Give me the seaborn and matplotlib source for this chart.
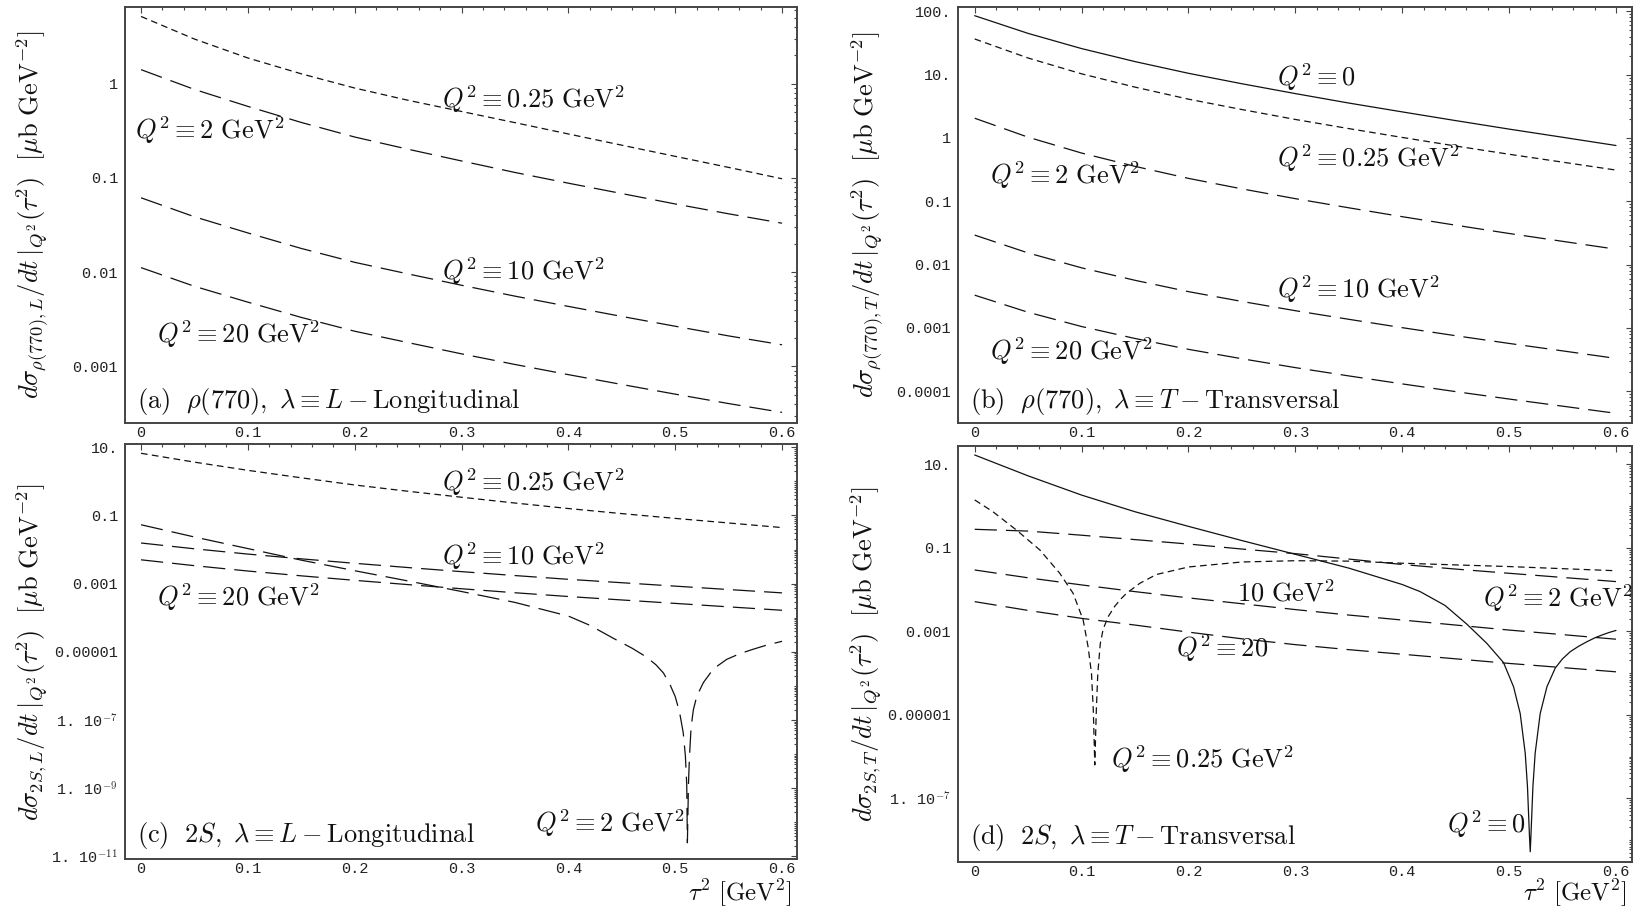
import numpy as np
import matplotlib
matplotlib.use("Agg")
import matplotlib.pyplot as plt
import matplotlib.ticker as mticker
import seaborn as sns

sns.set_theme(style="white")
plt.rcParams["font.family"] = ["Liberation Mono", "DejaVu Sans"]
plt.rcParams["mathtext.fontset"] = "cm"
plt.rcParams["lines.scale_dashes"] = False


# --------------------------------------------------
# Data
# --------------------------------------------------

TAU2 = [0.0, 0.05, 0.1, 0.15, 0.2, 0.25, 0.3, 0.35, 0.4, 0.45, 0.5, 0.55, 0.6]

# (a) rho(770), longitudinal
A_Q025 = [5.16, 2.97, 1.87, 1.27, 0.897, 0.665, 0.506, 0.385, 0.292, 0.222, 0.169, 0.129, 0.0977]
A_Q2 = [1.406, 0.867, 0.573, 0.387, 0.271, 0.201, 0.151, 0.114, 0.0877, 0.0681, 0.0528, 0.0415, 0.0330]
A_Q10 = [0.0614, 0.0386, 0.0260, 0.0178, 0.01268, 0.00955, 0.00724, 0.00555, 0.00432, 0.00338, 0.00266, 0.00210, 0.00169]
A_Q20 = [0.01114, 0.00706, 0.00479, 0.00330, 0.002355, 0.001782, 0.001355, 0.001045, 0.000815, 0.000641, 0.000506, 0.000402, 0.000324]

# (b) rho(770), transversal
B_Q0 = [85.3, 44.8, 25.8, 16.07, 10.50, 7.18, 5.02, 3.56, 2.58, 1.88, 1.38, 1.026, 0.760]
B_Q025 = [36.6, 18.3, 10.3, 6.35, 4.10, 2.81, 1.96, 1.406, 1.019, 0.746, 0.553, 0.415, 0.311]
B_Q2 = [2.05, 1.028, 0.578, 0.356, 0.230, 0.157, 0.110, 0.0789, 0.0571, 0.0419, 0.0310, 0.0233, 0.0175]
B_Q10 = [0.02924, 0.01528, 0.00889, 0.00565, 0.00374, 0.00262, 0.00187, 0.001368, 0.001009, 0.000753, 0.000569, 0.000434, 0.000330]
B_Q20 = [0.00329, 0.001766, 0.001052, 0.000681, 0.000459, 0.000326, 0.000236, 0.0001746, 0.0001306, 9.86e-5, 7.53e-5, 5.81e-5, 4.48e-5]

# (c) 2S, longitudinal
C_Q025 = [6.68, 3.67, 2.11, 1.274, 0.785, 0.513, 0.343, 0.232, 0.160, 0.1135, 0.0822, 0.0603, 0.0442]
C_Q10 = [0.01560, 0.01054, 0.00738, 0.00535, 0.00396, 0.00297, 0.002254, 0.001730, 0.001343, 0.001067, 0.000847, 0.000673, 0.000537]
C_Q20 = [0.005012, 0.003373, 0.002350, 0.001698, 0.001253, 0.000938, 0.000710, 0.000542, 0.000420, 0.000333, 0.000264, 0.000209, 0.000166]
C_Q2_TAU2 = [0.0, 0.05, 0.1, 0.15, 0.2, 0.25, 0.3, 0.35, 0.4, 0.42, 0.442, 0.46, 0.473, 0.482,
             0.489, 0.495, 0.5, 0.504, 0.5075, 0.5095, 0.5108, 0.5114, 0.5124, 0.5133, 0.5149,
             0.517, 0.5202, 0.5264, 0.5357, 0.5482, 0.5607, 0.5732, 0.5857, 0.6]
C_Q2 = [5.35e-2, 2.34e-2, 1.07e-2, 4.90e-3, 2.40e-3, 1.20e-3, 5.89e-4, 2.82e-4, 1.12e-4, 6.03e-5,
        2.51e-5, 1.26e-5, 7.08e-6, 4.17e-6, 2.40e-6, 1.12e-6, 4.90e-7, 1.74e-7, 4.27e-8, 9.12e-9,
        1.26e-9, 2.51e-11, 1.26e-9, 7.94e-9, 6.31e-8, 2.00e-7, 5.01e-7, 1.26e-6, 3.16e-6, 6.03e-6,
        8.91e-6, 1.20e-5, 1.58e-5, 2.04e-5]

# (d) 2S, transversal
D_Q0_TAU2 = [0.0, 0.05, 0.1, 0.15, 0.2, 0.25, 0.3, 0.35, 0.4, 0.4168, 0.44, 0.4605, 0.4792, 0.4948,
             0.5042, 0.5104, 0.5151, 0.5172, 0.5191, 0.5198, 0.5204, 0.5223, 0.5244, 0.5291,
             0.5354, 0.5432, 0.55, 0.5572, 0.565, 0.5728, 0.58, 0.5868, 0.5934, 0.6]
D_Q0 = [16.7, 5.28, 1.83, 0.729, 0.326, 0.149, 0.0697, 0.0326, 0.0132, 8.91e-3, 4.17e-3, 1.48e-3,
        5.13e-4, 1.78e-4, 4.68e-5, 1.07e-5, 1.20e-6, 1.91e-7, 1.20e-8, 5.25e-9, 1.20e-8, 1.91e-7,
        1.20e-6, 1.07e-5, 4.68e-5, 1.32e-4, 2.19e-4, 3.24e-4, 4.37e-4, 5.62e-4, 6.92e-4, 8.13e-4,
        9.33e-4, 1.047e-3]
D_Q025_TAU2 = [0.0, 0.017, 0.039, 0.061, 0.0796, 0.0921, 0.1015, 0.1061, 0.1093, 0.1110, 0.1124,
               0.1138, 0.1152, 0.1175, 0.1202, 0.1249, 0.1311, 0.1370, 0.1421, 0.1545, 0.17, 0.2,
               0.25, 0.3, 0.35, 0.4, 0.45, 0.5, 0.55, 0.6]
D_Q025 = [1.40, 0.733, 0.267, 0.0885, 0.0245, 8.13e-3, 1.86e-3, 4.27e-4, 9.77e-5, 1.26e-5, 6.31e-7,
          1.26e-5, 9.77e-5, 5.01e-4, 1.12e-3, 2.24e-3, 3.98e-3, 6.03e-3, 8.13e-3, 0.0141, 0.0229,
          0.0347, 0.0457, 0.0490, 0.0479, 0.0427, 0.0389, 0.0355, 0.0316, 0.0282]
D_Q2 = [0.277, 0.251, 0.200, 0.157, 0.123, 0.0933, 0.0724, 0.0537, 0.0398, 0.0309, 0.0245, 0.0195, 0.0155]
D_Q10 = [0.0294, 0.0191, 0.0129, 8.91e-3, 6.31e-3, 4.57e-3, 3.31e-3, 2.45e-3, 1.86e-3, 1.41e-3, 1.07e-3, 8.32e-4, 6.46e-4]
D_Q20 = [5.13e-3, 3.16e-3, 2.04e-3, 1.41e-3, 9.55e-4, 6.61e-4, 4.79e-4, 3.63e-4, 2.82e-4, 2.19e-4, 1.70e-4, 1.35e-4, 1.07e-4]

# Tick values and labels
X_TICKS = [0.0, 0.1, 0.2, 0.3, 0.4, 0.5, 0.6]
X_TICK_LABELS = ["0", "0.1", "0.2", "0.3", "0.4", "0.5", "0.6"]

A_YTICKS = [0.001, 0.01, 0.1, 1]
A_YLABELS = ["0.001", "0.01", "0.1", "1"]
B_YTICKS = [1e-4, 1e-3, 0.01, 0.1, 1, 10, 100]
B_YLABELS = ["0.0001", "0.001", "0.01", "0.1", "1", "10.", "100."]
C_YTICKS = [1e-11, 1e-9, 1e-7, 1e-5, 1e-3, 0.1, 10]
C_YLABELS = [r"1. 10$^{-11}$", r"1. 10$^{-9}$", r"1. 10$^{-7}$", "0.00001", "0.001", "0.1", "10."]
D_YTICKS = [1e-7, 1e-5, 1e-3, 0.1, 10]
D_YLABELS = [r"1. 10$^{-7}$", "0.00001", "0.001", "0.1", "10."]


# --------------------------------------------------
# Styles
# --------------------------------------------------

SOLID = "-"
SHORT = (0, (4.8, 3.1))
LONG = (0, (16, 6.5))
INK = "#111111"
FRAME = "#444444"
TEXT_SIZE = 19
W, H = 1645, 908


def px_box(left, top, right, bottom):
    return [left / W, 1 - bottom / H, (right - left) / W, (bottom - top) / H]


def draw_curve(ax, x, y, ls):
    sns.lineplot(x=x, y=y, ax=ax, color=INK, linewidth=0.9,
                 estimator=None, sort=False)
    ax.lines[-1].set_linestyle(ls)


def style_axis(ax, xlim, ylim, yticks, ylabels):
    ax.set_xlim(xlim)
    ax.set_ylim(ylim)
    ax.xaxis.set_major_locator(mticker.FixedLocator(X_TICKS))
    ax.xaxis.set_major_formatter(mticker.FixedFormatter(X_TICK_LABELS))
    ax.xaxis.set_minor_locator(mticker.MultipleLocator(0.02))
    ax.yaxis.set_major_locator(mticker.FixedLocator(yticks))
    ax.yaxis.set_major_formatter(mticker.FixedFormatter(ylabels))
    ax.yaxis.set_minor_locator(mticker.LogLocator(base=10, subs=np.arange(1, 10), numticks=300))
    ax.yaxis.set_minor_formatter(mticker.NullFormatter())
    ax.tick_params(which="both", direction="in", top=True, right=True,
                   color=FRAME, width=0.8)
    ax.tick_params(which="major", length=4, labelsize=11, labelcolor="#222222")
    ax.tick_params(which="minor", length=2)
    ax.tick_params(axis="x", which="major", pad=2)
    ax.tick_params(axis="y", which="major", pad=5)
    ax.set_xlabel("")
    ax.set_ylabel("")
    for sp in ax.spines.values():
        sp.set_linewidth(1.4)
        sp.set_color(FRAME)


def annotate(ax, notes):
    for text, x, y in notes:
        ax.text(x, y, text, fontsize=TEXT_SIZE, color=INK, ha="left", va="baseline")


# --------------------------------------------------
# Figure
# --------------------------------------------------

fig = plt.figure(figsize=(W / 100, H / 100), dpi=100)

ax_a = fig.add_axes(px_box(125, 7, 797, 423))
ax_b = fig.add_axes(px_box(958, 7, 1632, 423))
ax_c = fig.add_axes(px_box(125, 444, 797, 859))
ax_d = fig.add_axes(px_box(958, 446, 1632, 862))

for ax in (ax_a, ax_b, ax_c, ax_d):
    ax.set_yscale("log")

# (a)
draw_curve(ax_a, TAU2, A_Q025, SHORT)
draw_curve(ax_a, TAU2, A_Q2, LONG)
draw_curve(ax_a, TAU2, A_Q10, LONG)
draw_curve(ax_a, TAU2, A_Q20, LONG)
style_axis(ax_a, (-0.015, 0.614), (2.5e-4, 6.5), A_YTICKS, A_YLABELS)
annotate(ax_a, [
    (r"$Q^2\equiv 0.25\ \mathrm{GeV}^2$", 0.2815, 0.557),
    (r"$Q^2\equiv 2\ \mathrm{GeV}^2$", -0.0056, 0.261),
    (r"$Q^2\equiv 10\ \mathrm{GeV}^2$", 0.2815, 0.00824),
    (r"$Q^2\equiv 20\ \mathrm{GeV}^2$", 0.0147, 0.00176),
    (r"$\mathrm{(a)}\ \ \rho(770),\ \lambda\equiv L - \mathrm{Longitudinal}$", -0.004, 3.6e-4),
])

# (b)
draw_curve(ax_b, TAU2, B_Q0, SOLID)
draw_curve(ax_b, TAU2, B_Q025, SHORT)
draw_curve(ax_b, TAU2, B_Q2, LONG)
draw_curve(ax_b, TAU2, B_Q10, LONG)
draw_curve(ax_b, TAU2, B_Q20, LONG)
style_axis(ax_b, (-0.0156, 0.615), (3.15e-5, 117), B_YTICKS, B_YLABELS)
annotate(ax_b, [
    (r"$Q^2\equiv 0$", 0.2825, 6.67),
    (r"$Q^2\equiv 0.25\ \mathrm{GeV}^2$", 0.2825, 0.352),
    (r"$Q^2\equiv 2\ \mathrm{GeV}^2$", 0.0147, 0.1875),
    (r"$Q^2\equiv 10\ \mathrm{GeV}^2$", 0.2825, 0.00298),
    (r"$Q^2\equiv 20\ \mathrm{GeV}^2$", 0.0147, 3.16e-4),
    (r"$\mathrm{(b)}\ \ \rho(770),\ \lambda\equiv T - \mathrm{Transversal}$", -0.0047, 5.5e-5),
])

# (c)
draw_curve(ax_c, TAU2, C_Q025, SHORT)
draw_curve(ax_c, C_Q2_TAU2, C_Q2, LONG)
draw_curve(ax_c, TAU2, C_Q10, LONG)
draw_curve(ax_c, TAU2, C_Q20, LONG)
style_axis(ax_c, (-0.015, 0.614), (8.4e-12, 12.5), C_YTICKS, C_YLABELS)
annotate(ax_c, [
    (r"$Q^2\equiv 0.25\ \mathrm{GeV}^2$", 0.2815, 0.538),
    (r"$Q^2\equiv 10\ \mathrm{GeV}^2$", 0.2815, 3.6e-3),
    (r"$Q^2\equiv 20\ \mathrm{GeV}^2$", 0.0147, 2.2e-4),
    (r"$Q^2\equiv 2\ \mathrm{GeV}^2$", 0.3688, 5.1e-11),
    (r"$\mathrm{(c)}\ \ 2S,\ \lambda\equiv L - \mathrm{Longitudinal}$", -0.004, 2.6e-11),
])

# (d)
draw_curve(ax_d, D_Q0_TAU2, D_Q0, SOLID)
draw_curve(ax_d, D_Q025_TAU2, D_Q025, SHORT)
draw_curve(ax_d, TAU2, D_Q2, LONG)
draw_curve(ax_d, TAU2, D_Q10, LONG)
draw_curve(ax_d, TAU2, D_Q20, LONG)
style_axis(ax_d, (-0.0156, 0.615), (2.98e-9, 27.4), D_YTICKS, D_YLABELS)
annotate(ax_d, [
    (r"$10\ \mathrm{GeV}^2$", 0.245, 5.1e-3),
    (r"$Q^2\equiv 20$", 0.188, 2.4e-4),
    (r"$Q^2\equiv 2\ \mathrm{GeV}^2$", 0.476, 3.9e-3),
    (r"$Q^2\equiv 0.25\ \mathrm{GeV}^2$", 0.128, 5.2e-7),
    (r"$Q^2\equiv 0$", 0.4423, 1.45e-8),
    (r"$\mathrm{(d)}\ \ 2S,\ \lambda\equiv T - \mathrm{Transversal}$", -0.0047, 8.1e-9),
])

# axis titles
YLAB_A = r"$d\sigma_{\rho(770),L}/dt\,|_{Q^2}(\tau^2)\ \ [\mu\mathrm{b\ GeV}^{-2}]$"
YLAB_B = r"$d\sigma_{\rho(770),T}/dt\,|_{Q^2}(\tau^2)\ \ [\mu\mathrm{b\ GeV}^{-2}]$"
YLAB_C = r"$d\sigma_{2S,L}/dt\,|_{Q^2}(\tau^2)\ \ [\mu\mathrm{b\ GeV}^{-2}]$"
YLAB_D = r"$d\sigma_{2S,T}/dt\,|_{Q^2}(\tau^2)\ \ [\mu\mathrm{b\ GeV}^{-2}]$"
XLAB = r"$\tau^2\ [\mathrm{GeV}^2]$"

fig.text(32 / W, 1 - 215 / H, YLAB_A, rotation=90, ha="center", va="center",
         fontsize=TEXT_SIZE, color=INK)
fig.text(867 / W, 1 - 215 / H, YLAB_B, rotation=90, ha="center", va="center",
         fontsize=TEXT_SIZE, color=INK)
fig.text(32 / W, 1 - 652 / H, YLAB_C, rotation=90, ha="center", va="center",
         fontsize=TEXT_SIZE, color=INK)
fig.text(866 / W, 1 - 654 / H, YLAB_D, rotation=90, ha="center", va="center",
         fontsize=TEXT_SIZE, color=INK)
fig.text(792 / W, 1 - 901 / H, XLAB, ha="right", va="baseline",
         fontsize=18, color=INK)
fig.text(1627 / W, 1 - 901 / H, XLAB, ha="right", va="baseline",
         fontsize=18, color=INK)

fig.savefig("out.png", dpi=100)
